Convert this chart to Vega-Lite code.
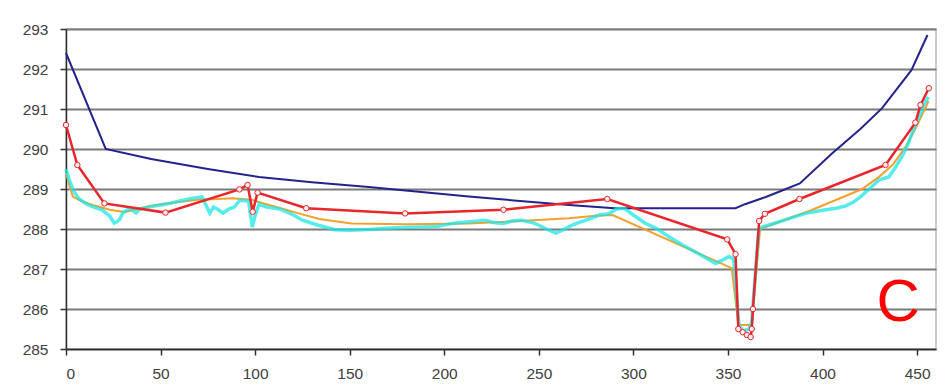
{
  "$schema": "https://vega.github.io/schema/vega-lite/v6.json",
  "width": 870,
  "height": 320,
  "autosize": {"type": "none"},
  "padding": {"left": 66, "top": 29, "right": 13, "bottom": 41},
  "background": "#ffffff",
  "config": {
    "view": {"stroke": "#bdbdbd", "strokeWidth": 1.5},
    "axis": {
      "labelFont": "Liberation Sans",
      "labelFontSize": 15.5,
      "labelColor": "#404040",
      "domainColor": "#303030",
      "domainWidth": 1.5,
      "tickColor": "#303030",
      "tickWidth": 1.5,
      "tickSize": 6,
      "title": null
    }
  },
  "datasets": {
    "navy": [
      {"x": 0, "y": 292.4}, {"x": 21, "y": 290.0}, {"x": 45, "y": 289.75}, {"x": 75, "y": 289.5},
      {"x": 102, "y": 289.3}, {"x": 130, "y": 289.17}, {"x": 160, "y": 289.05}, {"x": 213, "y": 288.81},
      {"x": 266, "y": 288.6}, {"x": 290, "y": 288.52}, {"x": 354, "y": 288.52}, {"x": 359, "y": 288.62},
      {"x": 370, "y": 288.8}, {"x": 377, "y": 288.93}, {"x": 388, "y": 289.14}, {"x": 405, "y": 289.89},
      {"x": 420, "y": 290.5}, {"x": 431.5, "y": 291.02}, {"x": 447, "y": 291.97}, {"x": 455.5, "y": 292.85}
    ],
    "orange": [
      {"x": 0, "y": 289.4}, {"x": 2, "y": 289.05}, {"x": 3.6, "y": 288.81}, {"x": 8, "y": 288.7},
      {"x": 14, "y": 288.6}, {"x": 18, "y": 288.55}, {"x": 23, "y": 288.48}, {"x": 30, "y": 288.43},
      {"x": 32, "y": 288.43}, {"x": 39, "y": 288.52}, {"x": 45, "y": 288.58}, {"x": 53, "y": 288.64},
      {"x": 62, "y": 288.69}, {"x": 70, "y": 288.73}, {"x": 80, "y": 288.75}, {"x": 88, "y": 288.77},
      {"x": 98, "y": 288.73}, {"x": 106, "y": 288.62}, {"x": 115, "y": 288.5}, {"x": 123, "y": 288.39},
      {"x": 134, "y": 288.25}, {"x": 151, "y": 288.14}, {"x": 180, "y": 288.12}, {"x": 213, "y": 288.14},
      {"x": 240, "y": 288.2}, {"x": 266, "y": 288.27}, {"x": 280, "y": 288.33}, {"x": 289, "y": 288.35},
      {"x": 352, "y": 287.02}, {"x": 355.5, "y": 285.6}, {"x": 362.5, "y": 285.6}, {"x": 367, "y": 288.0},
      {"x": 368, "y": 288.02}, {"x": 394, "y": 288.47}, {"x": 421, "y": 289.0}, {"x": 430, "y": 289.31},
      {"x": 437, "y": 289.6}, {"x": 444, "y": 290.06}, {"x": 449, "y": 290.5}, {"x": 454.4, "y": 291.02},
      {"x": 456, "y": 291.2}
    ],
    "cyan": [
      {"x": 0, "y": 289.5}, {"x": 2, "y": 289.2}, {"x": 4, "y": 288.95}, {"x": 7, "y": 288.75},
      {"x": 11, "y": 288.62}, {"x": 14, "y": 288.56}, {"x": 19, "y": 288.48}, {"x": 23, "y": 288.33},
      {"x": 25.5, "y": 288.15}, {"x": 27, "y": 288.18}, {"x": 28.5, "y": 288.25}, {"x": 30, "y": 288.4},
      {"x": 33, "y": 288.5}, {"x": 35, "y": 288.47}, {"x": 37, "y": 288.4}, {"x": 39, "y": 288.5},
      {"x": 41, "y": 288.52}, {"x": 45, "y": 288.56}, {"x": 50, "y": 288.6}, {"x": 55, "y": 288.64},
      {"x": 60, "y": 288.7}, {"x": 67, "y": 288.77}, {"x": 72, "y": 288.8}, {"x": 74, "y": 288.6},
      {"x": 76, "y": 288.4}, {"x": 78, "y": 288.55}, {"x": 80, "y": 288.5}, {"x": 83, "y": 288.4},
      {"x": 86, "y": 288.5}, {"x": 89, "y": 288.55}, {"x": 92, "y": 288.72}, {"x": 96.5, "y": 288.7},
      {"x": 98.5, "y": 288.05}, {"x": 99.8, "y": 288.3}, {"x": 102, "y": 288.62}, {"x": 106, "y": 288.55},
      {"x": 113, "y": 288.5}, {"x": 119, "y": 288.38}, {"x": 125, "y": 288.22}, {"x": 133, "y": 288.1},
      {"x": 142, "y": 287.98}, {"x": 150, "y": 287.97}, {"x": 160, "y": 287.99}, {"x": 170, "y": 288.02},
      {"x": 178, "y": 288.04}, {"x": 188, "y": 288.05}, {"x": 196, "y": 288.06}, {"x": 204, "y": 288.14},
      {"x": 213, "y": 288.18}, {"x": 222, "y": 288.22}, {"x": 226, "y": 288.16}, {"x": 231, "y": 288.14},
      {"x": 236, "y": 288.2}, {"x": 241, "y": 288.22}, {"x": 248, "y": 288.14}, {"x": 254, "y": 288.0},
      {"x": 259, "y": 287.9}, {"x": 263, "y": 287.98}, {"x": 266, "y": 288.06}, {"x": 270, "y": 288.14},
      {"x": 275, "y": 288.22}, {"x": 282, "y": 288.35}, {"x": 287, "y": 288.38}, {"x": 291, "y": 288.5},
      {"x": 295, "y": 288.52}, {"x": 300, "y": 288.35}, {"x": 306, "y": 288.15}, {"x": 312, "y": 288.02},
      {"x": 319, "y": 287.8}, {"x": 326, "y": 287.6}, {"x": 335, "y": 287.37}, {"x": 343.5, "y": 287.14},
      {"x": 347, "y": 287.22}, {"x": 350.5, "y": 287.31}, {"x": 353, "y": 287.25}, {"x": 355.8, "y": 285.6},
      {"x": 358, "y": 285.45}, {"x": 361, "y": 285.5}, {"x": 362.5, "y": 285.65}, {"x": 366.3, "y": 288.0},
      {"x": 368, "y": 288.05}, {"x": 375, "y": 288.15}, {"x": 383, "y": 288.27}, {"x": 391, "y": 288.39},
      {"x": 400, "y": 288.47}, {"x": 407, "y": 288.52}, {"x": 412, "y": 288.57}, {"x": 416, "y": 288.66},
      {"x": 420, "y": 288.8}, {"x": 423, "y": 288.93}, {"x": 427, "y": 289.1}, {"x": 430, "y": 289.23},
      {"x": 435, "y": 289.3}, {"x": 438, "y": 289.5}, {"x": 442, "y": 289.81}, {"x": 445, "y": 290.1},
      {"x": 447.3, "y": 290.39}, {"x": 451, "y": 290.8}, {"x": 454.4, "y": 291.18}, {"x": 456, "y": 291.3}
    ],
    "red": [
      {"x": 0, "y": 290.6}, {"x": 6, "y": 289.6}, {"x": 20.3, "y": 288.64}, {"x": 52.6, "y": 288.41},
      {"x": 91.7, "y": 288.99}, {"x": 96, "y": 289.1}, {"x": 98.7, "y": 288.43}, {"x": 101.3, "y": 288.91},
      {"x": 127, "y": 288.52}, {"x": 179.3, "y": 288.39}, {"x": 231.3, "y": 288.48}, {"x": 286.2, "y": 288.75},
      {"x": 349.6, "y": 287.74}, {"x": 354, "y": 287.37}, {"x": 355.5, "y": 285.5}, {"x": 357.8, "y": 285.42},
      {"x": 360, "y": 285.35}, {"x": 362, "y": 285.3}, {"x": 362.6, "y": 285.5}, {"x": 363.2, "y": 286.0},
      {"x": 366.5, "y": 288.2}, {"x": 369.5, "y": 288.38}, {"x": 387.8, "y": 288.75}, {"x": 433.3, "y": 289.6},
      {"x": 449.1, "y": 290.66}, {"x": 451.8, "y": 291.1}, {"x": 456.2, "y": 291.52}
    ],
    "label": [{"x": 440, "y": 286.15, "text": "C"}]
  },
  "encoding": {
    "x": {
      "field": "x", "type": "quantitative",
      "scale": {"domain": [0, 460], "nice": false, "zero": false},
      "axis": {"values": [0, 50, 100, 150, 200, 250, 300, 350, 400, 450], "grid": false, "labelPadding": 11}
    },
    "y": {
      "field": "y", "type": "quantitative",
      "scale": {"domain": [285, 293], "nice": false, "zero": false},
      "axis": {"values": [285, 286, 287, 288, 289, 290, 291, 292, 293], "grid": true, "gridColor": "#7a7a7a", "gridWidth": 2, "labelPadding": 12}
    }
  },
  "layer": [
    {"data": {"name": "navy"}, "mark": {"type": "line", "color": "#23238c", "strokeWidth": 2}},
    {"data": {"name": "orange"}, "mark": {"type": "line", "color": "#f4a12e", "strokeWidth": 2}},
    {"data": {"name": "cyan"}, "mark": {"type": "line", "color": "#1ee6e6", "strokeWidth": 3.5, "opacity": 0.75}},
    {"data": {"name": "red"}, "mark": {"type": "line", "color": "#e8262b", "strokeWidth": 2.5}},
    {"data": {"name": "red"}, "mark": {"type": "point", "shape": "circle", "size": 30, "filled": false, "stroke": "#e8262b", "fill": "#fff0f0", "fillOpacity": 1, "strokeWidth": 1}},
    {"data": {"name": "label"}, "mark": {"type": "text", "font": "Liberation Sans", "fontSize": 60, "color": "#ff0000", "baseline": "middle", "align": "center"}, "encoding": {"text": {"field": "text"}}}
  ]
}
